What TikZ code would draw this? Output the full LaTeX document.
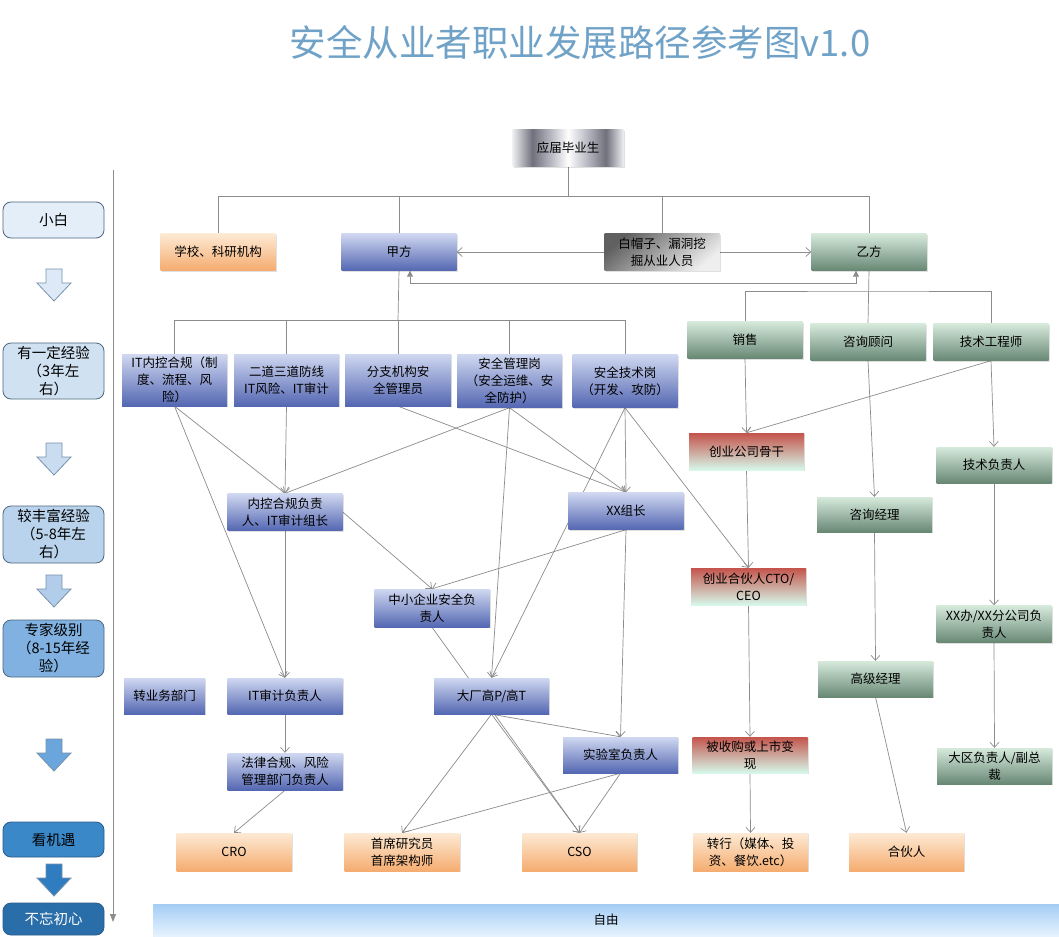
\documentclass[tikz,border=0pt]{standalone}
\usepackage{fontspec}
\setmainfont{Noto Sans CJK SC}
\usetikzlibrary{arrows.meta,shadows,calc}
\pgfdeclarelayer{bg}
\pgfdeclarelayer{edges}
\pgfsetlayers{bg,edges,main}

\definecolor{blueT}{RGB}{208,216,241}
\definecolor{blueB}{RGB}{84,103,178}
\definecolor{greenT}{RGB}{214,234,220}
\definecolor{greenB}{RGB}{104,136,116}
\definecolor{orangeT}{RGB}{253,234,212}
\definecolor{orangeB}{RGB}{245,172,112}
\definecolor{redT}{RGB}{196,84,76}
\definecolor{redM}{RGB}{226,210,200}
\definecolor{redB}{RGB}{214,248,234}
\definecolor{grayT}{RGB}{96,96,96}
\definecolor{grayB}{RGB}{238,238,238}
\definecolor{gmLight}{RGB}{238,238,242}
\definecolor{gmDark}{RGB}{112,112,124}
\definecolor{gmMid}{RGB}{190,190,200}
\definecolor{freeT}{RGB}{164,205,245}
\definecolor{freeB}{RGB}{230,243,254}
\definecolor{lineC}{RGB}{140,140,140}
\definecolor{titleC}{RGB}{112,162,200}
\definecolor{lvlBorder}{RGB}{78,104,128}
\definecolor{lvlBorderD}{RGB}{40,92,140}
\definecolor{arrBorder}{RGB}{120,146,172}
\definecolor{Lone}{RGB}{227,238,249}
\definecolor{Ltwo}{RGB}{208,225,242}
\definecolor{Lthree}{RGB}{186,211,236}
\definecolor{Lfour}{RGB}{128,177,225}
\definecolor{Lfive}{RGB}{59,136,200}
\definecolor{Lsix}{RGB}{42,110,169}
\definecolor{Aone}{RGB}{221,233,246}
\definecolor{Atwo}{RGB}{201,220,240}
\definecolor{Athree}{RGB}{178,205,234}
\definecolor{Afour}{RGB}{106,165,220}
\definecolor{Afive}{RGB}{47,125,192}

\pgfdeclarehorizontalshading{metal}{100bp}{color(0bp)=(gmLight); color(25bp)=(gmLight); color(34bp)=(gmDark); color(43bp)=(gmMid); color(50bp)=(white); color(58bp)=(gmMid); color(67bp)=(gmDark); color(75bp)=(gmLight); color(100bp)=(gmLight)}

\newcommand\lvlarrow[2]{\draw[draw=arrBorder, fill=#2, line width=0.8pt]
  (46,#1) -- (62,#1) -- (62,{#1+14}) -- (71,{#1+14}) -- (54,{#1+32}) -- (37,{#1+14}) -- (46,{#1+14}) -- cycle;}

\tikzset{
  box/.style={rectangle, minimum width=115pt, minimum height=37pt, inner sep=1pt,
    align=center, font=\fontsize{12.5}{17}\selectfont, text=black,
    drop shadow={shadow xshift=1.2pt, shadow yshift=-1.2pt, fill=black, opacity=0.12}},
  bluebox/.style={box, top color=blueT, bottom color=blueB},
  greenbox/.style={box, top color=greenT, bottom color=greenB},
  orangebox/.style={box, top color=orangeT, bottom color=orangeB},
  redbox/.style={box, top color=redT, middle color=redM, bottom color=redB},
  graybox/.style={box, top color=grayT, bottom color=grayB, shading angle=40},
  lvl/.style={rectangle, rounded corners=8pt, minimum width=101pt, minimum height=36pt,
    inner sep=1pt, draw=lvlBorder, line width=0.8pt, align=center,
    font=\fontsize{14.5}{18}\selectfont, text=black},
  conn/.style={draw=lineC, line width=0.7pt, -{Straight Barb[length=5pt,width=9pt]}},
  plain/.style={draw=lineC, line width=0.7pt},
}

\begin{document}
\begin{tikzpicture}[x=1pt,y=-1pt]
\useasboundingbox (0,0) rectangle (1059,936);
\begin{pgfonlayer}{bg}
\fill[white] (0,0) rectangle (1059,936);
\end{pgfonlayer}

% title
\node[font=\fontsize{36.5}{40}\selectfont, text=titleC] (title) at (580,42) {安全从业者职业发展路径参考图v1.0};

% level column
\node[lvl, fill=Lone] (xb) at (53.5,220) {小白};
\node[lvl, fill=Ltwo, minimum height=56pt] (yyd) at (53.5,371) {有一定经验\\（3年左\\右）};
\node[lvl, fill=Lthree, minimum height=57pt] (jff) at (53.5,534.5) {较丰富经验\\（5-8年左\\右）};
\node[lvl, fill=Lfour, minimum height=57pt] (zj) at (53.5,648.5) {专家级别\\（8-15年经\\验）};
\node[lvl, fill=Lfive, draw=lvlBorderD, minimum height=35pt] (kjy) at (53.5,839.5) {看机遇};
\node[lvl, fill=Lsix, draw=lvlBorderD, minimum height=32pt, text=white] (bwcx) at (53.5,919) {不忘初心};
\lvlarrow{269}{Aone}
\lvlarrow{443}{Atwo}
\lvlarrow{575}{Athree}
\lvlarrow{739}{Afour}
\lvlarrow{864}{Afive}

% axis
\coordinate (axT) at (113,170);
\coordinate (axB) at (113,922);
\draw[draw=lineC, line width=0.8pt, -{Triangle[length=8pt,width=6pt]}] (axT) -- (axB);

% freedom band
\node[rectangle, minimum width=906pt, minimum height=32pt, inner sep=0pt,
  top color=freeT, bottom color=freeB, font=\fontsize{12.5}{17}\selectfont] (free) at (606,920) {自由};

% top
\node[box, minimum width=111pt, shading=metal] (ying) at (568,148) {应届毕业生};
\node[orangebox] (school) at (218,252) {学校、科研机构};
\node[bluebox] (jia) at (399,252) {甲方};
\node[graybox] (bmz) at (662,252) {白帽子、漏洞挖\\掘从业人员};
\node[greenbox] (yi) at (869,252) {乙方};

% second row right
\node[greenbox] (xs) at (745,340) {销售};
\node[greenbox] (zx) at (868,342) {咨询顾问};
\node[greenbox] (js) at (991,342) {技术工程师};

% second row left
\node[bluebox, minimum width=105pt, minimum height=52pt] (itnk) at (174.5,380) {IT内控合规（制\\度、流程、风\\险）};
\node[bluebox, minimum width=105pt, minimum height=52pt] (edao) at (286.5,380) {二道三道防线\\IT风险、IT审计};
\node[bluebox, minimum width=106pt, minimum height=52pt] (fz) at (398,380) {分支机构安\\全管理员};
\node[bluebox, minimum width=105pt, minimum height=53pt] (aqgl) at (509.5,381) {安全管理岗\\（安全运维、安\\全防护）};
\node[bluebox, minimum width=105pt, minimum height=53pt] (aqjs) at (625,381) {安全技术岗\\（开发、攻防）};

% middle
\node[bluebox] (nkfz) at (285,512) {内控合规负责\\人、IT审计组长};
\node[bluebox] (xxzz) at (626,511) {XX组长};
\node[bluebox, minimum height=38pt] (zxqy) at (432,608) {中小企业安全负\\责人};
\node[bluebox, minimum width=81pt, minimum height=36pt] (zywb) at (164.5,696) {转业务部门};
\node[bluebox, minimum height=36pt] (itsj) at (285,696) {IT审计负责人};
\node[bluebox, minimum height=36pt] (dc) at (491.5,696) {大厂高P/高T};
\node[bluebox, minimum height=36pt] (sys) at (620.5,755) {实验室负责人};
\node[bluebox] (flhg) at (285,771.5) {法律合规、风险\\管理部门负责人};

% bottom orange
\node[orangebox, minimum height=38pt] (cro) at (234,852) {CRO};
\node[orangebox, minimum height=38pt] (sxyj) at (402,852) {首席研究员\\首席架构师};
\node[orangebox, minimum height=38pt] (cso) at (579.5,852) {CSO};
\node[orangebox, minimum height=38pt] (zh) at (750.5,852) {转行（媒体、投\\资、餐饮.etc）};
\node[orangebox, minimum height=38pt] (hhr) at (906.5,852) {合伙人};

% right side
\node[redbox] (cygg) at (746.5,451.5) {创业公司骨干};
\node[greenbox, minimum height=36pt] (jsfz) at (994,465) {技术负责人};
\node[greenbox, minimum height=35pt] (zxjl) at (874.5,514.5) {咨询经理};
\node[redbox] (cyhh) at (748.5,586.5) {创业合伙人CTO/\\CEO};
\node[greenbox] (xxb) at (994,624) {XX办/XX分公司负\\责人};
\node[greenbox, minimum height=36pt] (gjjl) at (875.5,679) {高级经理};
\node[redbox, minimum height=36pt] (bsg) at (750,755) {被收购或上市变\\现};
\node[greenbox, minimum height=36pt] (dq) at (994.5,766) {大区负责人/副总\\裁};

\begin{pgfonlayer}{edges}
% buses
\coordinate (bus1) at (568,196);
\draw[plain] (ying.south) -- (bus1);
\draw[plain] (school.north) |- (bus1);
\draw[plain] (jia.north) |- (bus1);
\draw[plain] (bmz.north) |- (bus1);
\draw[plain] (yi.north) |- (bus1);

\coordinate (bus2) at (398,320);
\draw[plain] (jia.south) -- (bus2);
\draw[plain] (itnk.north) |- (bus2);
\draw[plain] (edao.north) |- (bus2);
\draw[plain] (fz.north) -- (bus2);
\draw[plain] (aqgl.north) |- (bus2);
\draw[plain] (aqjs.north) |- (bus2);

\coordinate (bus3) at (868,291);
\draw[plain] (yi.south) -- (zx.north);
\draw[plain] (xs.north) |- (bus3) -| (js.north);

% jia <-> yi elbow
\draw[draw=lineC, line width=0.8pt, {Triangle[length=6pt,width=6pt]}-{Triangle[length=6pt,width=6pt]}]
  ($(jia.south)+(11,0)$) -- ++(0,13) -| ($(yi.south)+(-13,0)$);

% white hat arrows
\draw[conn] (bmz.west) -- (jia.east);
\draw[conn] (bmz.east) -- (yi.west);

% left/middle
\draw[conn] (itnk.south) -- (nkfz.north);
\draw[conn] (itnk.south) -- (itsj.north);
\draw[conn] (edao.south) -- (nkfz.north);
\draw[conn] (aqgl.south) -- (nkfz.north);
\draw[conn] (fz.south) -- (xxzz.north);
\draw[conn] (aqgl.south) -- (xxzz.north);
\draw[conn] (aqjs.south) -- (xxzz.north);
\draw[conn] (aqgl.south) -- (dc.north);
\draw[conn] (aqjs.south) -- (dc.north);
\draw[conn] (aqjs.south) -- (cyhh.north);
\draw[conn] (nkfz.east) -- (zxqy.north);
\draw[conn] (xxzz.south) -- (zxqy.north);
\draw[conn] (nkfz.south) -- (itsj.north);
\draw[conn] (xxzz.south) -- (sys.north);
\draw[conn] (zxqy.south) -- (cso.north);
\draw[conn] (dc.south) -- (sys.north);
\draw[conn] (dc.south) -- (cso.north);
\draw[conn] (dc.south) -- (sxyj.north);
\draw[conn] (sys.south) -- (sxyj.north);
\draw[conn] (sys.south) -- (cso.north);
\draw[conn] (itsj.south) -- (flhg.north);
\draw[conn] (flhg.south) -- (cro.north);

% right
\draw[conn] (xs.south) -- (cygg.north);
\draw[conn] (js.south) -- (cygg.north);
\draw[conn] (js.south) -- (jsfz.north);
\draw[conn] (zx.south) -- (zxjl.north);
\draw[conn] (cygg.south) -- (cyhh.north);
\draw[conn] (jsfz.south) -- (xxb.north);
\draw[conn] (zxjl.south) -- (gjjl.north);
\draw[conn] (cyhh.south) -- (bsg.north);
\draw[conn] (bsg.south) -- (zh.north);
\draw[conn] (gjjl.south) -- (hhr.north);
\draw[conn] (xxb.south) -- (dq.north);
\end{pgfonlayer}
\end{tikzpicture}
\end{document}
